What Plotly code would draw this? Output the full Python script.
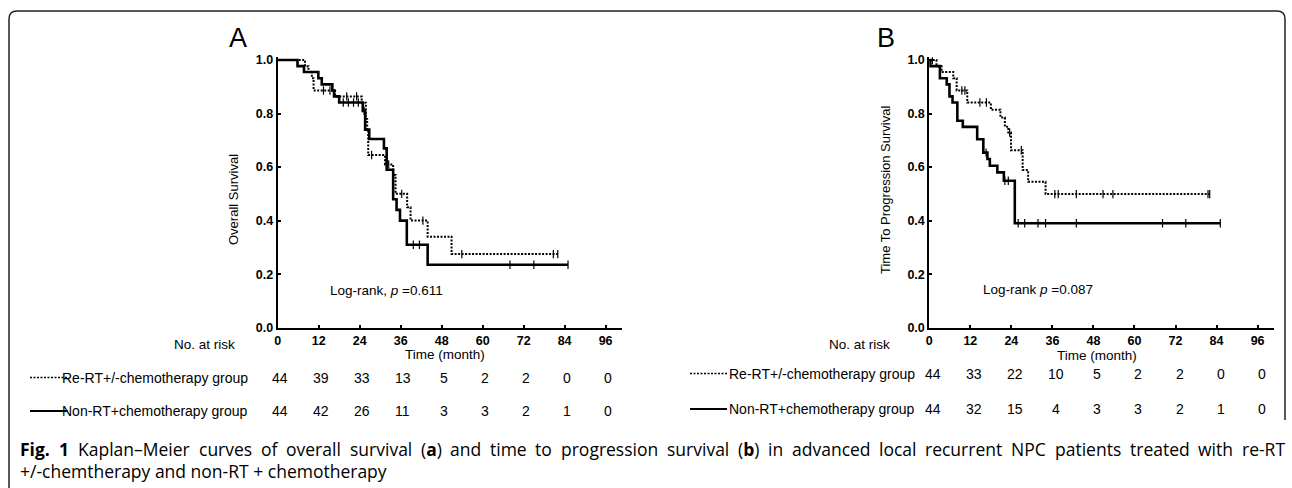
import plotly.graph_objects as go

W, H = 1292, 488

# ---------------- data ----------------
time_ticks = [0, 12, 24, 36, 48, 60, 72, 84, 96]

# Panel A: overall survival
A_rert_t = [8.0, 9.0, 10.0, 10.5, 16.8, 24.6, 25.8, 26.2, 26.5, 31.4, 33.8, 34.5, 37.9, 38.9, 43.9, 50.9]
A_rert_s = [0.977, 0.955, 0.932, 0.886, 0.864, 0.840, 0.78, 0.74, 0.645, 0.61, 0.57, 0.50, 0.45, 0.40, 0.34, 0.275]
A_rert_end = 82.0
A_rert_cens = [13.4, 15.3, 20.2, 23.1, 27.5, 32.5, 36.3, 42.5, 53.9, 80.7, 82.0]

A_non_t = [5.8, 7.7, 11.9, 12.9, 16.0, 16.5, 18.0, 24.9, 25.6, 26.8, 31.1, 31.9, 33.8, 34.8, 35.8, 37.8, 43.9]
A_non_s = [0.977, 0.955, 0.932, 0.909, 0.886, 0.864, 0.841, 0.81, 0.74, 0.705, 0.67, 0.59, 0.48, 0.44, 0.40, 0.31, 0.235]
A_non_end = 85.0
A_non_cens = [19.2, 20.7, 22.2, 23.6, 25.3, 39.7, 41.5, 68.0, 75.0, 85.0]

# Panel B: time to progression survival
B_rert_t = [2.1, 3.6, 7.0, 8.0, 11.1, 18.0, 20.8, 22.1, 23.1, 23.9, 27.3, 28.9, 34.0]
B_rert_s = [0.977, 0.955, 0.932, 0.886, 0.841, 0.814, 0.785, 0.751, 0.729, 0.663, 0.589, 0.545, 0.499]
B_rert_end = 82.0
B_rert_cens = [0.9, 9.5, 10.4, 14.8, 16.7, 23.5, 26.9, 36.7, 37.7, 43.0, 50.8, 53.7, 81.5, 82.0]

B_non_t = [0.3, 3.1, 5.1, 5.9, 6.8, 8.2, 9.8, 14.0, 15.8, 17.0, 17.7, 19.9, 21.8, 25.0]
B_non_s = [0.977, 0.932, 0.909, 0.864, 0.841, 0.773, 0.750, 0.704, 0.654, 0.63, 0.605, 0.58, 0.549, 0.39]
B_non_end = 85.1
B_non_cens = [16.6, 22.1, 23.1, 26.0, 27.9, 31.8, 34.0, 43.0, 68.2, 75.0, 85.1]

A_risk_rert = [44, 39, 33, 13, 5, 2, 2, 0, 0]
A_risk_non = [44, 42, 26, 11, 3, 3, 2, 1, 0]
B_risk_rert = [44, 33, 22, 10, 5, 2, 2, 0, 0]
B_risk_non = [44, 32, 15, 4, 3, 3, 2, 1, 0]

y_ticks = [0.0, 0.2, 0.4, 0.6, 0.8, 1.0]
group_rert = "Re-RT+/-chemotherapy group"
group_non = "Non-RT+chemotherapy group"

caption_line1 = ["<b>Fig.</b>", "<b>1</b>", "Kaplan–Meier", "curves", "of", "overall", "survival", "(<b>a</b>)", "and",
                 "time", "to", "progression", "survival", "(<b>b</b>)", "in", "advanced", "local", "recurrent",
                 "NPC", "patients", "treated", "with", "re-RT"]
caption_line2 = "+/-chemtherapy and non-RT + chemotherapy"

# ---------------- helpers ----------------
def px(x):
    return x / W

def py(y):
    return 1 - y / H

def step_xy(t, s, end):
    return [0] + list(t) + [end], [1.0] + list(s) + [s[-1]]

def surv_at(t_ev, s_ev, t):
    v = 1.0
    for ti, si in zip(t_ev, s_ev):
        if ti <= t:
            v = si
    return v

FONT = "Liberation Sans, Arial, sans-serif"
fig = go.Figure()

def add_km(t, s, end, cens, xa, ya, dash, width):
    xs, ys = step_xy(t, s, end)
    fig.add_trace(go.Scatter(x=xs, y=ys, mode="lines", line=dict(shape="hv", color="black", width=width, dash=dash),
                             xaxis=xa, yaxis=ya, hoverinfo="skip"))
    fig.add_trace(go.Scatter(x=cens, y=[surv_at(t, s, c) for c in cens], mode="markers",
                             marker=dict(symbol="line-ns", size=6, line=dict(color="black", width=1.2)),
                             xaxis=xa, yaxis=ya, hoverinfo="skip"))

DOT = "2px,1.5px"
add_km(A_rert_t, A_rert_s, A_rert_end, A_rert_cens, "x", "y", DOT, 2)
add_km(A_non_t, A_non_s, A_non_end, A_non_cens, "x", "y", "solid", 2.6)
add_km(B_rert_t, B_rert_s, B_rert_end, B_rert_cens, "x2", "y2", DOT, 2)
add_km(B_non_t, B_non_s, B_non_end, B_non_cens, "x2", "y2", "solid", 2.6)

ydom = [py(327.7), py(57.3)]
xcommon = dict(range=[0, 100.8], tickvals=time_ticks, ticks="inside", ticklen=3, tickwidth=1.5,
               tickcolor="black", showline=True, linewidth=2, linecolor="black", showgrid=False,
               zeroline=False, tickfont=dict(family=FONT, size=12.5, color="black", weight="bold"),
               fixedrange=True)
ycommon = dict(range=[0, 1.01], tickvals=y_ticks, ticktext=["%.1f" % v for v in y_ticks], ticks="inside",
               ticklen=3, tickwidth=1.5, tickcolor="black", showline=True, linewidth=2, linecolor="black",
               showgrid=False, zeroline=False, tickfont=dict(family=FONT, size=12.5, color="black", weight="bold"),
               domain=ydom, fixedrange=True)

fig.update_layout(
    width=W, height=H, margin=dict(l=0, r=0, t=0, b=0, autoexpand=False),
    paper_bgcolor="white", plot_bgcolor="white", showlegend=False,
    xaxis=dict(domain=[px(277.7), px(622)], anchor="y", **xcommon),
    yaxis=dict(anchor="x", **ycommon),
    xaxis2=dict(domain=[px(929.3), px(1274)], anchor="y2", **xcommon),
    yaxis2=dict(anchor="x2", **ycommon),
)

ann = []
def text(x, y, s, size=14, xanchor="center", xref="paper", textangle=0, family=FONT):
    ann.append(dict(x=x, y=y, xref=xref, yref="paper", text=s, showarrow=False, xanchor=xanchor,
                    yanchor="middle", textangle=textangle,
                    font=dict(family=family, size=size, color="black")))

# panel letters
text(px(238), py(38), "A", size=27)
text(px(886), py(38), "B", size=27)
# axis titles
text(px(233), py(200), "Overall Survival", size=13, textangle=-90)
text(px(885), py(190), "Time To Progression Survival", size=13, textangle=-90)
text(px(445), py(354), "Time (month)", size=13.5)
text(px(1097), py(355), "Time (month)", size=13.5)
# log-rank
text(px(327.7), py(290), "Log-rank, <i>p</i> =0.611", size=13.5, xanchor="left")
text(px(981), py(289), "Log-rank <i>p</i> =0.087", size=13.5, xanchor="left")

# at-risk table
text(px(237), py(344), "No. at risk", size=13.5, xanchor="right")
text(px(892), py(344), "No. at risk", size=13.5, xanchor="right")
text(px(250), py(377.5), group_rert, size=14, xanchor="right")
text(px(250), py(411), group_non, size=14, xanchor="right")
text(px(917), py(373.5), group_rert, size=14, xanchor="right")
text(px(917), py(409), group_non, size=14, xanchor="right")

for row, ypos, xr, shift in [(A_risk_rert, 377.5, "x", 2), (A_risk_non, 411, "x", 2),
                             (B_risk_rert, 373.5, "x2", 4), (B_risk_non, 409, "x2", 4)]:
    for t, n in zip(time_ticks, row):
        ann.append(dict(x=t, y=py(ypos), xref=xr, yref="paper", text=str(n), showarrow=False,
                        xanchor="center", yanchor="middle", xshift=shift,
                        font=dict(family=FONT, size=14, color="black")))

# caption (line 1 justified between x=18 and x=1283)
CAP = "Open Sans, Noto Sans, sans-serif"
CAP_SIZE = 17.5
cw = {' ': .26, 'a': .556, 'b': .613, 'c': .476, 'd': .613, 'e': .561, 'f': .339, 'g': .548, 'h': .614, 'i': .253,
      'k': .525, 'l': .253, 'm': .93, 'n': .614, 'o': .604, 'p': .613, 'r': .408, 's': .477, 't': .353, 'u': .614,
      'v': .501, 'w': .778, 'y': .502, '(': .295, ')': .295, '-': .322, '–': .5, '.': .266, '1': .572, '+': .572,
      '/': .368, 'K': .613, 'M': .89, 'N': .756, 'P': .618, 'C': .634, 'R': .627, 'T': .54, 'F': .56}
def word_w(w):
    plain = w.replace("<b>", "").replace("</b>", "")
    bold = 1.06 if w.startswith("<b>") else 1.0
    return sum(cw.get(ch, .55) for ch in plain) * CAP_SIZE * bold
widths = [word_w(w) for w in caption_line1]
gap = (1283 - 18 - sum(widths)) / (len(widths) - 1)
xpos = 18.0
for w, wd in zip(caption_line1, widths):
    text(px(xpos), py(449), w, size=CAP_SIZE, xanchor="left", family=CAP)
    xpos += wd + gap
text(px(18), py(471), caption_line2, size=CAP_SIZE, xanchor="left", family=CAP)

fig.update_layout(annotations=ann)

shapes = []
# legend line samples in table
for (x0, x1, y, dash) in [(30, 68, 377.5, DOT), (30, 68, 411, "solid"), (690, 727, 373.5, DOT), (690, 727, 409, "solid")]:
    shapes.append(dict(type="line", xref="paper", yref="paper", x0=px(x0), x1=px(x1), y0=py(y), y1=py(y),
                       line=dict(color="black", width=1.5 if dash != "solid" else 2, dash=dash)))
# rounded frame
path = ("M {a},{b} L {a},{c} Q {a},{d} {e},{d} L {f},{d} Q {g},{d} {g},{c} L {g},{h}").format(
    a=px(9), b=py(488), c=py(19), d=py(11), e=px(17), f=px(1277), g=px(1285), h=py(420))
shapes.append(dict(type="path", xref="paper", yref="paper", path=path, line=dict(color="#222", width=1.5)))
fig.update_layout(shapes=shapes)

fig.write_html("out.html", config={"displayModeBar": False},
               post_script="document.body.style.margin='0';document.documentElement.style.overflow='hidden';")
